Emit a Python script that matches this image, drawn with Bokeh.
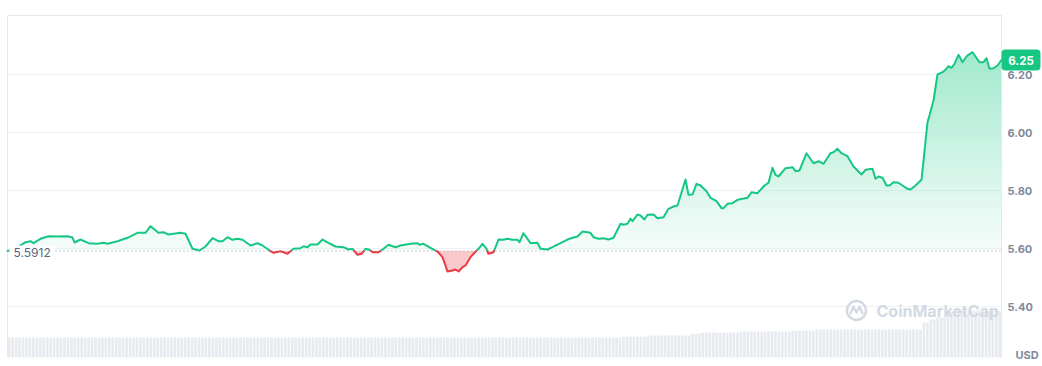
import numpy as np
from bokeh.plotting import figure
from bokeh.models import Range1d, Label
from bokeh.core.properties import value
from bokeh.embed import file_html
from bokeh.resources import INLINE

# ---------------- data ----------------
# time in arbitrary steps across the 24h window (0 .. 994)
t = [0, 5, 10, 15, 18, 23, 26, 33, 41, 50, 60, 65, 67, 73, 81, 90, 96, 100, 110, 120,
     130, 138, 143, 146, 151, 156, 161, 173, 178, 185, 192, 198, 205, 211, 215, 220, 225, 230, 235, 243,
     250, 255, 263, 266, 273, 276, 280, 286, 293, 296, 300, 303, 310, 315, 321, 328, 336, 341, 345, 350,
     354, 358, 362, 365, 371, 376, 381, 388, 393, 403, 410, 412, 416, 423, 430, 435, 440, 445, 448, 451,
     455, 458, 463, 467, 471, 475, 479, 481, 486, 491, 496, 500, 505, 510, 512, 516, 518, 523, 530, 533,
     540, 545, 553, 560, 565, 570, 575, 580, 583, 586, 591, 596, 601, 606, 613, 616, 620, 623, 625, 630,
     633, 637, 640, 646, 650, 656, 661, 666, 670, 678, 681, 685, 689, 693, 699, 703, 709, 714, 716, 720,
     725, 730, 740, 744, 750, 757, 761, 765, 768, 771, 778, 785, 788, 792, 799, 806, 811, 816, 823, 826,
     830, 834, 840, 846, 854, 858, 865, 868, 871, 875, 879, 882, 886, 891, 895, 900, 903, 908, 914, 920,
     922, 926, 930, 935, 938, 941, 944, 947, 951, 955, 959, 961, 965, 968, 972, 976, 979, 982, 986, 990, 994]
price = [5.5912, 5.5950, 5.6040, 5.6150, 5.6217, 5.6252, 5.6183, 5.6334, 5.6424, 5.6414, 5.6424, 5.6379, 5.6207, 5.6310, 5.6183, 5.6162, 5.6197, 5.6162, 5.6252, 5.6369,
         5.6541, 5.6541, 5.6769, 5.6679, 5.6541, 5.6562, 5.6483, 5.6541, 5.6507, 5.5990, 5.5931, 5.6069, 5.6355, 5.6252, 5.6252, 5.6390, 5.6300, 5.6334, 5.6300, 5.6103,
         5.6183, 5.6103, 5.5907, 5.5852, 5.5907, 5.5872, 5.5817, 5.5990, 5.6010, 5.6079, 5.6045, 5.6138, 5.6138, 5.6310, 5.6197, 5.6069, 5.6045, 5.5966, 5.5990, 5.5783,
         5.5817, 5.5990, 5.5955, 5.5872, 5.5872, 5.5990, 5.6128, 5.6045, 5.6103, 5.6162, 5.6183, 5.6128, 5.6162, 5.6024, 5.5897, 5.5700, 5.5207, 5.5241, 5.5276, 5.5207,
         5.5355, 5.5414, 5.5700, 5.5852, 5.5990, 5.6162, 5.5990, 5.5817, 5.5872, 5.6310, 5.6300, 5.6334, 5.6300, 5.6300, 5.6217, 5.6528, 5.6424, 5.6183, 5.6197, 5.5990,
         5.5966, 5.6045, 5.6183, 5.6310, 5.6369, 5.6414, 5.6586, 5.6562, 5.6541, 5.6390, 5.6334, 5.6355, 5.6310, 5.6369, 5.6852, 5.6817, 5.6852, 5.7024, 5.6941, 5.7172,
         5.7138, 5.7000, 5.7162, 5.7172, 5.7045, 5.7079, 5.7369, 5.7448, 5.7483, 5.8379, 5.7852, 5.7862, 5.8231, 5.8172, 5.7976, 5.7748, 5.7631, 5.7390, 5.7390, 5.7541,
         5.7562, 5.7679, 5.7748, 5.7941, 5.7907, 5.8172, 5.8266, 5.8783, 5.8541, 5.8483, 5.8769, 5.8803, 5.8666, 5.8690, 5.9286, 5.8941, 5.9010, 5.8921, 5.9286, 5.9321,
         5.9438, 5.9286, 5.9183, 5.8828, 5.8552, 5.8714, 5.8748, 5.8403, 5.8483, 5.8438, 5.8172, 5.8172, 5.8286, 5.8266, 5.8172, 5.8059, 5.8034, 5.8172, 5.8369, 6.0355,
         6.0586, 6.1103, 6.2000, 6.2079, 6.2162, 6.2286, 6.2231, 6.2369, 6.2679, 6.2424, 6.2621, 6.2679, 6.2769, 6.2621, 6.2424, 6.2424, 6.2562, 6.2197, 6.2217, 6.2310, 6.2500]
base_price = 5.5912
y_ticks = [5.40, 5.60, 5.80, 6.00, 6.20]
# volume: levels (millions) starting at given times
vol_start = [0, 613, 643, 683, 693, 733, 783, 808, 913, 920, 928, 938, 948]
vol_level = [60, 63, 66, 72, 75, 78, 81, 84, 105, 114, 120, 138, 141]
n_bars = 288

GREEN = (22, 199, 132)
GREEN_HEX = "#16c784"
RED = "#ea3943"
T_END = 994
P_TOP, P_BOT = 6.4034, 5.2241          # chart box limits (price units)
PX = 1 / 290                            # price per screen pixel

p = figure(width=1042, height=366, output_backend="svg", toolbar_location=None,
           x_range=Range1d(-7, 1035), y_range=Range1d(6.20 - 292 * PX, 6.20 + 74 * PX),
           x_axis_location=None, y_axis_location=None,
           min_border_left=0, min_border_right=0, min_border_top=0, min_border_bottom=0,
           outline_line_color=None, background_fill_color="white", border_fill_color="white")
p.grid.visible = False

# volume bars
p.extra_y_ranges = {"vol": Range1d(-27, 1071)}
step = T_END / n_bars
centers = [(i + 0.5) * step for i in range(n_bars)]
vols = []
for c in centers:
    lv = vol_level[0]
    for s, l in zip(vol_start, vol_level):
        if c >= s:
            lv = l
    vols.append(lv)
p.vbar(x=centers, top=vols, bottom=0, width=step * 0.78, y_range_name="vol",
       fill_color="#e7ebf0", line_color=None)

# augment with baseline crossings
ta, pa = [t[0]], [price[0]]
for i in range(1, len(t)):
    d0 = price[i - 1] - base_price
    d1 = price[i] - base_price
    if d0 * d1 < 0:
        ta.append(t[i - 1] + (t[i] - t[i - 1]) * d0 / (d0 - d1))
        pa.append(base_price)
    ta.append(t[i])
    pa.append(price[i])
ta = np.array(ta)
pa = np.array(pa)

# red fill
p.varea(x=ta, y1=np.minimum(pa, base_price), y2=base_price, fill_color=RED, fill_alpha=0.27)

# green gradient fill: opaque stacked layers (each covers from its level up to the line)
P = np.maximum(pa, base_price)
top_l = pa.max()
N = 70
def grad_color(l):
    a = min(0.04 + 0.53 * (l - base_price), 1.0)
    r, g, b = (round(255 * (1 - a) + ch * a) for ch in GREEN)
    return f"#{r:02x}{g:02x}{b:02x}"
for k in range(N):
    l = base_price + k * (top_l - base_price) / N
    p.varea(x=ta, y1=np.minimum(P, l), y2=P, fill_color=grad_color(l), fill_alpha=1.0)

# grid lines (drawn over the fill, faint)
p.segment(x0=[0] * len(y_ticks), x1=[T_END] * len(y_ticks), y0=y_ticks, y1=y_ticks,
          line_color="#c9d0da", line_alpha=0.3, line_width=1)

# chart box border (top, left, right)
p.segment(x0=[0, 0, T_END], x1=[T_END, 0, T_END], y0=[P_TOP, P_TOP, P_TOP], y1=[P_TOP, P_BOT, P_BOT],
          line_color="#e6e8ec", line_width=1)

# coloured line segments
green_xs, green_ys, red_xs, red_ys = [], [], [], []
cur_x, cur_y, cur_c = [ta[0]], [pa[0]], None
for j in range(len(ta) - 1):
    mid = (pa[j] + pa[j + 1]) / 2
    c = "r" if mid < base_price else "g"
    if cur_c is None:
        cur_c = c
    if c != cur_c:
        (green_xs if cur_c == "g" else red_xs).append(cur_x)
        (green_ys if cur_c == "g" else red_ys).append(cur_y)
        cur_x, cur_y, cur_c = [ta[j]], [pa[j]], c
    cur_x.append(ta[j + 1])
    cur_y.append(pa[j + 1])
(green_xs if cur_c == "g" else red_xs).append(cur_x)
(green_ys if cur_c == "g" else red_ys).append(cur_y)
p.multi_line(xs=green_xs, ys=green_ys, line_color=GREEN_HEX, line_width=2, line_join="round", line_cap="round")
p.multi_line(xs=red_xs, ys=red_ys, line_color=RED, line_width=2, line_join="round", line_cap="round")

# baseline (dotted)
p.segment(x0=[0], x1=[T_END], y0=[base_price], y1=[base_price], line_color="#9aa3b3",
          line_dash="1 3", line_width=1)
p.add_layout(Label(x=0, y=base_price, x_offset=2, y_offset=-1, text=f"{base_price:.4f}",
                   text_align="left", text_baseline="middle", text_font="Inter",
                   text_font_size="12px", text_color="#58667e",
                   background_fill_color="white", background_fill_alpha=1.0, padding=(4, 2)))

# watermark
wm_y = 6.20 - (310 - 74) * PX
p.scatter(x=[849], y=[wm_y], marker="circle", size=19, fill_color=None,
          line_color="#d3d9e3", line_width=2.4)
logo_dx = [-6, -3, 0, 3, 6]
logo_dy = [-3, 4, -2, 4, -3]
p.line(x=[849 + d for d in logo_dx], y=[wm_y + d * PX for d in logo_dy],
       line_color="#d3d9e3", line_width=2.2, line_join="round", line_cap="round")
p.text(x=[869], y=[wm_y], text=["CoinMarketCap"], text_font=value("Inter"),
       text_font_size="16px", text_font_style="bold", text_color="#d3d9e3",
       text_align="left", text_baseline="middle")

# right axis labels
p.text(x=[T_END + 6] * len(y_ticks), y=y_ticks, text=[f"{v:.2f}" for v in y_ticks],
       text_font=value("Inter"), text_font_size="11px", text_font_style="bold",
       text_color="#808a9d", text_align="left", text_baseline="middle")
p.text(x=[T_END + 14], y=[6.20 - (354 - 74) * PX], text=["USD"],
       text_font=value("Inter"), text_font_size="11px", text_font_style="bold",
       text_color="#808a9d", text_align="left", text_baseline="middle")

# current price tag (rounded box + text)
last = price[-1]
p.quad(left=[T_END], right=[T_END + 39], bottom=[last - 10.5 * PX], top=[last + 10.5 * PX],
       fill_color=GREEN_HEX, line_color=None, border_radius=4)
p.text(x=[T_END + 19.5], y=[last], text=[f"{last:.2f}"], text_font=value("Inter"),
       text_font_size="11.5px", text_font_style="bold", text_color="white",
       text_align="center", text_baseline="middle")

open("out.html", "w").write(file_html(p, INLINE))
